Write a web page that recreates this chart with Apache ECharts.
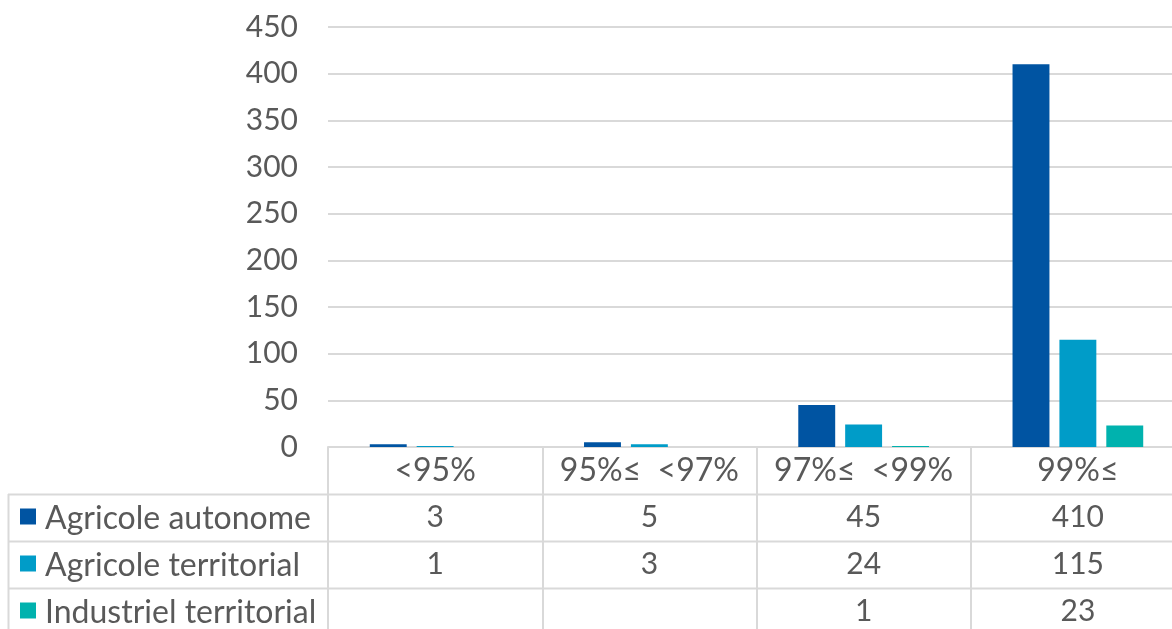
<!DOCTYPE html>
<html>
<head>
<meta charset="utf-8">
<script src="https://cdn.jsdelivr.net/npm/echarts@6/dist/echarts.min.js"></script>
<style>
  html, body { margin: 0; padding: 0; background: #fff; overflow: hidden; }
  #chart { width: 1185px; height: 629px; }
</style>
</head>
<body>
<div id="chart"></div>
<script>
// Categories and series values (also shown in the data table under the axis)
const categories = ['<95%', '95%\u2264  <97%', '97%\u2264  <99%', '99%\u2264'];
const seriesNames = ['Agricole autonome', 'Agricole territorial', 'Industriel territorial'];
const agricoleAutonome = [3, 5, 45, 410];
const agricoleTerritorial = [1, 3, 24, 115];
const industrielTerritorial = [null, null, 1, 23];
const yTicks = { min: 0, max: 450, interval: 50 };

const colors = ['#0054A2', '#009CC8', '#00B2AE'];
const seriesValues = [agricoleAutonome, agricoleTerritorial, industrielTerritorial];

const FONT = 'Lato, "Noto Sans", sans-serif';
const TEXT = '#595959';
const LINE = '#D9D9D9';
const ROW_H = 47;
const AXIS_Y = 447;   // pixel row of the category axis
const GRID_LEFT = 328;
const TABLE_LEFT = 8;
const W = 1185;
const FS_NUM = 30;    // numbers: axis ticks and table cells
const FS_TXT = 32;    // words: category headers and series names

const chart = echarts.init(document.getElementById('chart'), null, { renderer: 'canvas' });

// Legend column of the data table: colour key + series name per row
const graphics = [];
seriesNames.forEach((name, i) => {
  const top = AXIS_Y + ROW_H * (i + 1);
  graphics.push({
    type: 'line', silent: true,
    shape: { x1: TABLE_LEFT, y1: top + 0.5, x2: W, y2: top + 0.5 },
    style: { stroke: LINE, lineWidth: 2 }
  });
  graphics.push({
    type: 'rect', silent: true,
    shape: { x: 20, y: top + ROW_H / 2 - 9, width: 16, height: 16 },
    style: { fill: colors[i] }
  });
  graphics.push({
    type: 'text', silent: true,
    x: 45, y: top + ROW_H / 2 + 1,
    style: { text: name, font: FS_TXT + 'px ' + FONT, fill: TEXT, verticalAlign: 'middle', align: 'left' }
  });
});
graphics.push({
  type: 'line', silent: true,
  shape: { x1: TABLE_LEFT + 0.5, y1: AXIS_Y + ROW_H, x2: TABLE_LEFT + 0.5, y2: 629 },
  style: { stroke: LINE, lineWidth: 2 }
});

chart.setOption({
  animation: false,
  textStyle: { fontFamily: FONT },
  grid: { left: GRID_LEFT, right: 0, top: 27, bottom: 629 - AXIS_Y, containLabel: false },
  xAxis: {
    type: 'category',
    data: categories,
    axisLine: { lineStyle: { color: LINE, width: 2 } },
    axisTick: { show: true, length: 629 - AXIS_Y, lineStyle: { color: LINE, width: 2 } },
    axisLabel: {
      margin: 0,
      interval: 0,
      formatter: (value, idx) => {
        const cells = seriesValues.map(arr => '{v|' + (arr[idx] == null ? ' ' : arr[idx]) + '}');
        return ['{h|' + value + '}'].concat(cells).join('\n');
      },
      rich: {
        h: { fontSize: FS_TXT, lineHeight: ROW_H, color: TEXT, fontFamily: FONT },
        v: { fontSize: FS_NUM, lineHeight: ROW_H, color: TEXT, fontFamily: FONT }
      }
    }
  },
  yAxis: {
    type: 'value',
    min: yTicks.min, max: yTicks.max, interval: yTicks.interval,
    axisLine: { show: false },
    axisTick: { show: false },
    axisLabel: { fontSize: FS_NUM, color: TEXT, margin: 30, fontFamily: FONT },
    splitLine: { lineStyle: { color: LINE, width: 2 } }
  },
  series: seriesNames.map((name, i) => ({
    name,
    type: 'bar',
    data: seriesValues[i],
    barGap: '27%',
    barCategoryGap: '39%',
    itemStyle: { color: colors[i] }
  })),
  graphic: graphics
});
</script>
</body>
</html>
